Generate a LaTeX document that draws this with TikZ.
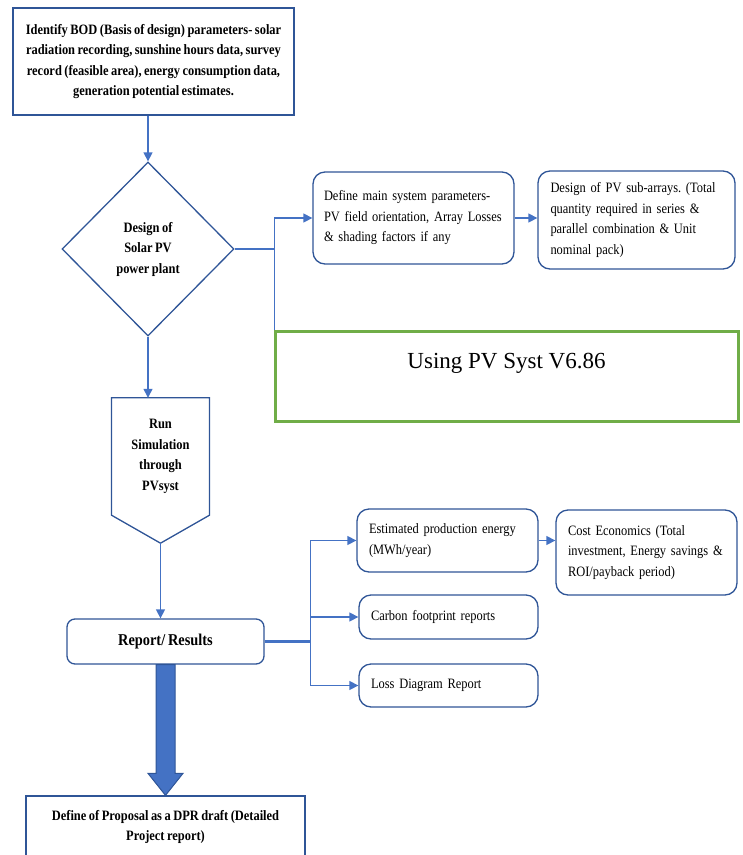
\documentclass[tikz,border=0pt]{standalone}
\usepackage{fontspec}
\setmainfont{Liberation Serif}[FakeStretch=0.87,WordSpace=0.8]
\newfontfamily\pvfont{Liberation Serif}
\usetikzlibrary{arrows.meta,positioning,calc,shapes.geometric}
\definecolor{edgeblue}{RGB}{47,85,151}
\definecolor{linkblue}{RGB}{68,114,196}
\definecolor{simgreen}{RGB}{112,173,71}
\newcommand{\boxfont}{\fontsize{14.3}{20.5}\selectfont}
\frenchspacing

\begin{document}
\begin{tikzpicture}[x=1pt,y=-1pt,
  plainbox/.style={draw=edgeblue,line width=1.3pt,align=center,font=\boxfont\bfseries},
  roundbox/.style={draw=edgeblue,line width=1.3pt,rounded corners=12pt,align=left,font=\boxfont,inner xsep=12pt,inner ysep=0pt},
  flowline/.style={draw=linkblue,line width=1.3pt},
  arrowed/.style={-{Triangle[length=9pt,width=9pt]}}]
\useasboundingbox (0,0) rectangle (743,855);
% main column
\node[plainbox,minimum width=281,minimum height=107] (bod) at (153.5,61.5) {Identify BOD (Basis of design) parameters- solar\\radiation recording, sunshine hours data, survey\\record (feasible area), energy consumption data,\\generation potential estimates.};
\node[diamond,draw=edgeblue,line width=1.3pt,minimum width=172,minimum height=174,inner sep=1pt,align=center,font=\boxfont\bfseries] (des) at (148,249) {Design of\\Solar PV\\power plant};
\node[minimum width=97.5,minimum height=117,inner sep=0pt,align=center,font=\boxfont\bfseries] (run) at (160.5,456.5) {Run\\Simulation\\through\\PVsyst};
\draw[draw=edgeblue,line width=1.3pt] (run.north west) -- (run.south west) -- ($(run.south)+(0,28)$) coordinate (runtip) -- (run.south east) -- (run.north east) -- cycle;
\node[roundbox,rounded corners=8pt,align=center,font=\fontsize{16.5}{20}\selectfont\bfseries,minimum width=197,minimum height=45] (rep) at (165.5,641.5) {Report/ Results};
\node[plainbox,minimum width=279,minimum height=62] (dpr) at (165.5,827) {Define of Proposal as a DPR draft (Detailed\\Project report)};
% right side
\node[roundbox,minimum width=201,minimum height=92,text width=179,inner xsep=11pt] (par) at (413.5,218) {Define main system parameters-\\PV field orientation, Array Losses\\\& shading factors if any};
\node[roundbox,minimum width=197,minimum height=98,text width=172,inner xsep=12.5pt] (sub) at (636.5,220) {Design of PV sub-arrays. (Total\\quantity required in series \&\\parallel combination \& Unit\\nominal pack)};
\node[draw=simgreen,line width=3pt,minimum width=463,inner sep=0pt,text height=37pt,text depth=53pt,font=\pvfont\fontsize{23}{27}\selectfont] (sim) at (506.5,376) {Using PV Syst V6.86};
\node[roundbox,minimum width=181,minimum height=63,text width=157] (est) at (447.5,540.5) {Estimated production energy\\(MWh/year)};
\node[roundbox,minimum width=179,minimum height=44,text width=155] (carb) at (448.5,617) {Carbon footprint reports};
\node[roundbox,minimum width=179,minimum height=43,text width=155] (loss) at (448.5,685.5) {Loss Diagram Report};
\node[roundbox,minimum width=181,minimum height=85,text width=157] (cost) at (646.5,552.5) {Cost Economics (Total\\investment, Energy savings \&\\ROI/payback period)};
% connectors
\draw[flowline,arrowed] (des.north |- bod.south) -- (des.north);
\coordinate (fork) at ($(des.east)+(40,0)$);
\draw[flowline,arrowed] (des.east) -- (fork) |- (par.west);
\draw[flowline] (fork) -- (fork |- sim.north);
\draw[flowline,arrowed] (par.east) -- (par.east -| sub.west);
\draw[flowline,arrowed] (des.south) -- (des.south |- run.north);
\draw[flowline,arrowed] (runtip) -- (runtip |- rep.north);
\coordinate (hub) at ($(rep.east)+(46,0)$);
\draw[flowline,line width=3pt] (rep.east) -- (hub);
\foreach \b in {est,carb,loss} \draw[flowline,arrowed] (hub) |- (\b.west);
\draw[flowline,arrowed] (est.east) -- (est.east -| cost.west);
% block arrow down to the proposal
\coordinate (dprtop) at (rep.south |- dpr.north);
\draw[draw=edgeblue,fill=linkblue,line width=1pt] ($(rep.south)+(-9.5,0)$) -- ($(dprtop)+(-9.5,-22)$) -- ($(dprtop)+(-17.5,-22)$) -- (dprtop) -- ($(dprtop)+(17.5,-22)$) -- ($(dprtop)+(9.5,-22)$) -- ($(rep.south)+(9.5,0)$) -- cycle;
\end{tikzpicture}
\end{document}
